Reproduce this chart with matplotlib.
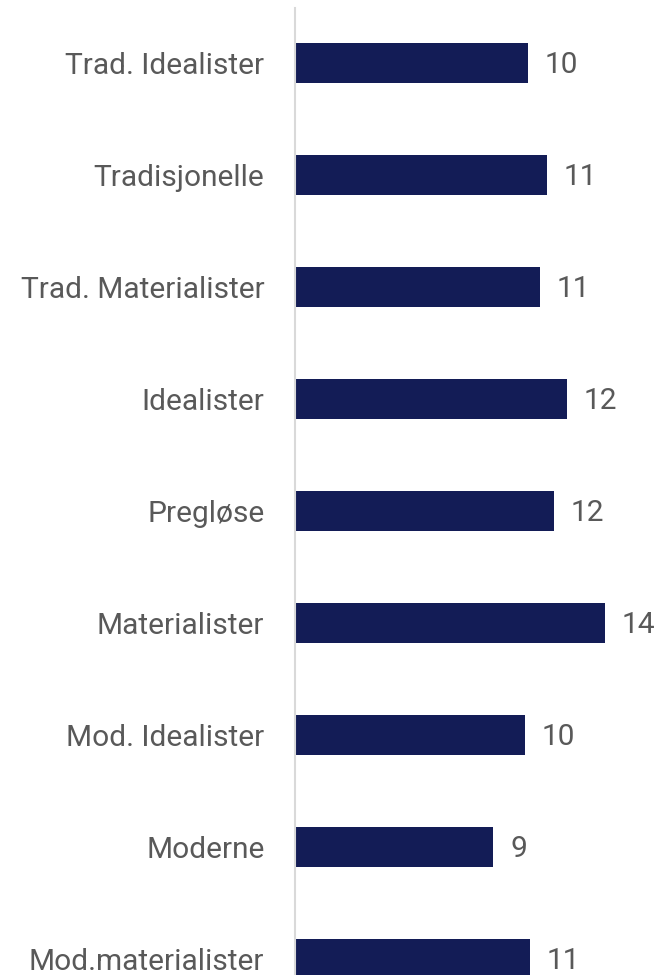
import matplotlib
matplotlib.use('Agg')
import matplotlib.pyplot as plt

# Segment shares
categories = ['Trad. Idealister', 'Tradisjonelle', 'Trad. Materialister', 'Idealister',
              'Pregløse', 'Materialister', 'Mod. Idealister', 'Moderne', 'Mod.materialister']
values = [10.45, 11.3, 11.0, 12.2, 11.6, 13.9, 10.3, 8.9, 10.55]

BAR_COLOR = '#131c56'
TEXT_COLOR = '#595959'
FS = 21.5

plt.rcParams['font.family'] = ['Roboto', 'DejaVu Sans']

fig = plt.figure(figsize=(6.54, 9.75), dpi=100)
ax = fig.add_axes([295 / 654, 1 - 1015 / 975, 334.5 / 654, 1007 / 975])

y = list(range(len(categories)))
bars = ax.barh(y, values, height=0.357, color=BAR_COLOR)

for b, v in zip(bars, values):
    ax.annotate(f'{round(v):d}', xy=(b.get_width(), b.get_y() + b.get_height() / 2),
                xytext=(12, -1.5), textcoords='offset points', va='center', ha='left',
                fontsize=FS, color=TEXT_COLOR)

ax.set_xlim(0, 15)
ax.set_ylim(8.5, -0.49)
ax.set_yticks(y)
ax.set_yticklabels(categories, fontsize=FS, color=TEXT_COLOR)
ax.tick_params(axis='y', length=0, pad=22)
ax.set_xticks([])

for s in ['top', 'right', 'bottom']:
    ax.spines[s].set_visible(False)
ax.spines['left'].set_color('#d9d9d9')
ax.spines['left'].set_linewidth(1.5)

fig.savefig('out.png', dpi=100)
